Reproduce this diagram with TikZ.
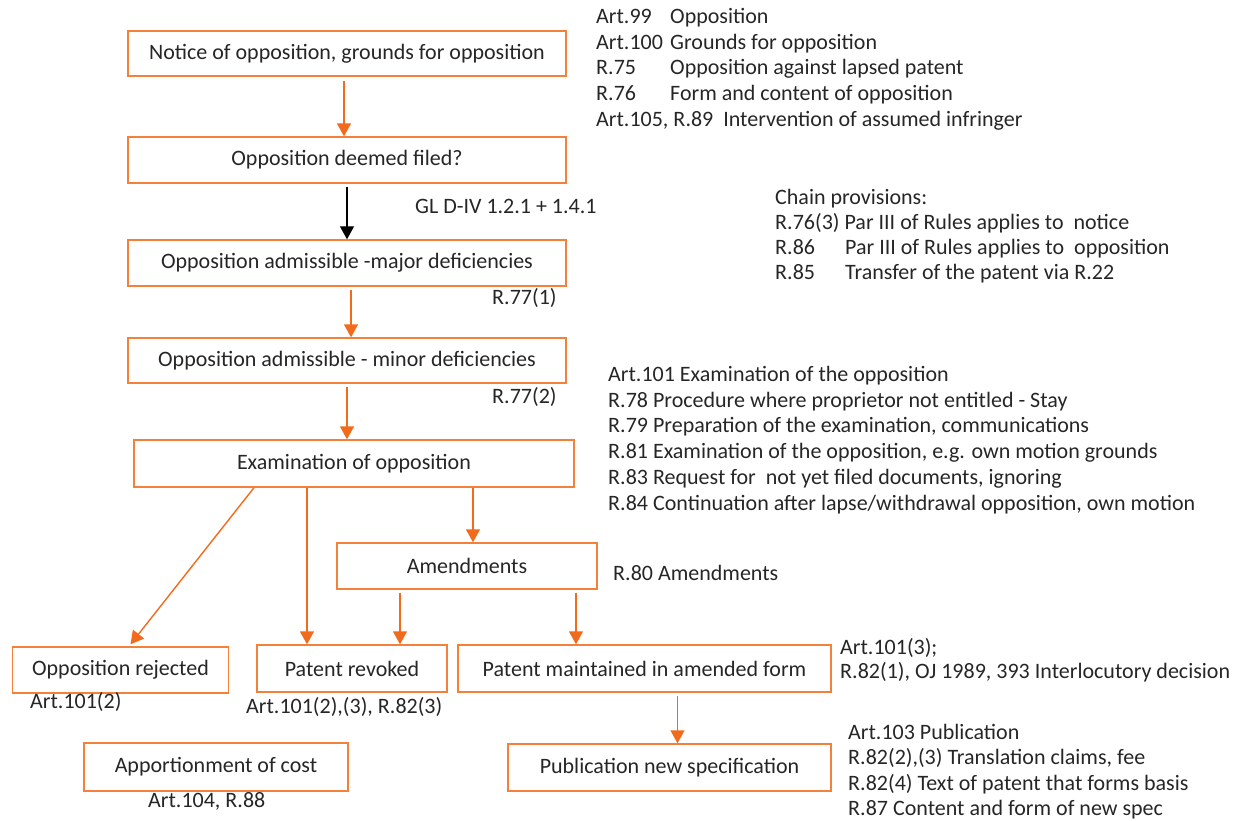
\documentclass[tikz,border=0pt]{standalone}
\usepackage{fontspec}
\setmainfont{Carlito}
\usetikzlibrary{arrows.meta,calc}
\definecolor{boxor}{HTML}{F4813A}
\definecolor{arror}{HTML}{F26B1D}
\definecolor{txt}{HTML}{262626}
\tikzset{
  flowbox/.style={draw=boxor,line width=1.4pt,fill=white,inner sep=0pt,text=txt,font=\fontsize{22}{26}\selectfont},
  arr/.style={draw=arror,line width=1.4pt,-{Triangle[width=14pt,length=13pt]},shorten <=3pt},
  blackarr/.style={draw=black,line width=1.2pt,-{Triangle[width=14pt,length=13pt]},shorten <=3pt},
  ref/.style={anchor=base west,inner sep=0pt,text=txt,font=\fontsize{22}{26}\selectfont},
}
\newcommand{\tabto}[2]{\makebox[#1][l]{#2}}
\begin{document}
\begin{tikzpicture}[x=1pt,y=-1pt]
\useasboundingbox (0,0) rectangle (1235,820);
% boxes
\node[flowbox,minimum width=438pt,minimum height=45pt] (n1) at (347,53.5) {Notice of opposition, grounds for opposition};
\node[flowbox,minimum width=438pt,minimum height=46pt] (n2) at (347,160) {Opposition deemed filed?};
\node[flowbox,minimum width=438pt,minimum height=46pt] (n3) at (347,263) {Opposition admissible -major deficiencies};
\node[flowbox,minimum width=438pt,minimum height=45pt] (n4) at (347,360.5) {Opposition admissible - minor deficiencies};
\node[flowbox,minimum width=440pt,minimum height=47pt] (n5) at (354,463.5) {Examination of opposition};
\node[flowbox,minimum width=260pt,minimum height=46pt] (n6) at (467,566) {Amendments};
\node[flowbox,minimum width=216pt,minimum height=46pt] (n7) at (120.5,670) {Opposition rejected};
\node[flowbox,minimum width=190pt,minimum height=47pt] (n8) at (352,668.5) {Patent revoked};
\node[flowbox,minimum width=373pt,minimum height=47pt] (n9) at (644.5,668.5) {Patent maintained in amended form};
\node[flowbox,minimum width=264pt,minimum height=48pt] (n10) at (216,767) {Apportionment of cost};
\node[flowbox,minimum width=323pt,minimum height=47pt] (n11) at (669.5,767.5) {Publication new specification};
% arrows
\draw[arr,shorten <=4pt] ([xshift=-3pt]n1.south) -- ([xshift=-3pt]n1.south |- n2.north);
\draw[blackarr] (n2.south) -- (n2.south |- n3.north);
\draw[arr] ([xshift=4pt]n3.south) -- ([xshift=4pt]n3.south |- n4.north);
\draw[arr] (n4.south) -- (n4.south |- n5.north);
\draw[arr,shorten <=0pt] ([xshift=-100pt]n5.south) -- ([xshift=10pt,yshift=2pt]n7.north);
\draw[arr,shorten <=0pt] ([xshift=-47pt]n5.south) -- ([xshift=-47pt]n5.south |- n8.north);
\draw[arr,shorten <=0pt] ([xshift=119pt]n5.south) -- ([xshift=119pt]n5.south |- n6.north);
\draw[arr] ([xshift=-67pt]n6.south) -- ([xshift=-67pt]n6.south |- n8.north);
\draw[arr] ([xshift=109pt]n6.south) -- ([xshift=109pt]n6.south |- n9.north);
\draw[arr] ([xshift=33pt]n9.south) -- ([xshift=33pt]n9.south |- n11.north);
% labels
\node[ref] (gl) at (415,213) {GL D-IV 1.2.1 + 1.4.1};
\node[ref] (r771) at (492,304) {R.77(1)};
\node[ref] (r772) at (492,403) {R.77(2)};
\node[ref] (a1012) at (30,708) {Art.101(2)};
\node[ref] (a10123) at (246,713) {Art.101(2),(3), R.82(3)};
\node[ref] (a104) at (148,807) {Art.104, R.88};
\node[ref] (r80) at (613,580) {R.80 Amendments};
% top right list
\node[ref] (t1) at (596,23) {\tabto{74pt}{Art.99}Opposition};
\node[ref] (t2) at (596,49) {\tabto{74pt}{Art.100}Grounds for opposition};
\node[ref] (t3) at (596,74) {\tabto{74pt}{R.75}Opposition against lapsed patent};
\node[ref] (t4) at (596,100) {\tabto{74pt}{R.76}Form and content of opposition};
\node[ref] (t5) at (596,126) {Art.105, R.89\ \ Intervention of assumed infringer};
% chain
\node[ref] (c1) at (775,204) {Chain provisions:};
\node[ref] (c2) at (775,229) {R.76(3) Par III of Rules applies to\ \ notice};
\node[ref] (c3) at (775,254) {\tabto{70pt}{R.86}Par III of Rules applies to\ \ opposition};
\node[ref] (c4) at (775,279) {\tabto{70pt}{R.85}Transfer of the patent via R.22};
% examination list
\node[ref] (e1) at (608,381) {Art.101 Examination of the opposition};
\node[ref] (e2) at (608,407) {R.78 Procedure where proprietor not entitled - Stay};
\node[ref] (e3) at (608,432) {R.79 Preparation of the examination, communications};
\node[ref] (e4) at (608,458) {R.81 Examination of the opposition, e.g. own motion grounds};
\node[ref] (e5) at (608,484) {R.83 Request for\ \ not yet filed documents, ignoring};
\node[ref] (e6) at (608,510) {R.84 Continuation after lapse/withdrawal opposition, own motion};
% maintained
\node[ref] (m1) at (840,654) {Art.101(3);};
\node[ref] (m2) at (840,678) {R.82(1), OJ 1989, 393 Interlocutory decision};
% publication
\node[ref] (p1) at (848,739) {Art.103 Publication};
\node[ref] (p2) at (848,764) {R.82(2),(3) Translation claims, fee};
\node[ref] (p3) at (848,790) {R.82(4) Text of patent that forms basis};
\node[ref] (p4) at (848,815) {R.87 Content and form of new spec};
\end{tikzpicture}
\end{document}
